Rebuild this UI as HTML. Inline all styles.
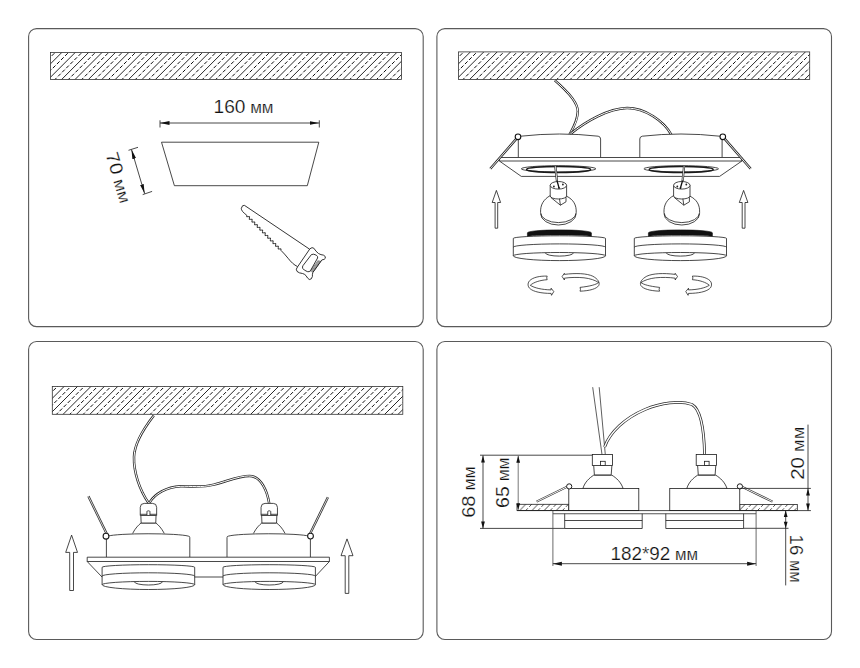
<!DOCTYPE html>
<html><head><meta charset="utf-8"><style>
html,body{margin:0;padding:0;background:#fff;width:860px;height:668px;overflow:hidden}
svg{display:block}
text{font-family:"Liberation Sans",sans-serif;fill:#111;stroke:#fff;stroke-width:0.2;paint-order:normal}
</style></head><body>
<svg width="860" height="668" viewBox="0 0 860 668">
<defs>
<pattern id="h" patternUnits="userSpaceOnUse" width="9.1" height="12" patternTransform="translate(-1.2 0) rotate(45)">
<line x1="1" y1="0" x2="1" y2="12" stroke="#000" stroke-width="0.7"/>
<line x1="5.55" y1="0" x2="5.55" y2="12" stroke="#000" stroke-width="0.7" stroke-dasharray="3.8 2.2"/>
</pattern>
<pattern id="hs" patternUnits="userSpaceOnUse" width="5.2" height="10" patternTransform="rotate(40)">
<line x1="0.5" y1="0" x2="0.5" y2="10" stroke="#222" stroke-width="0.8" stroke-dasharray="4 1"/>
</pattern>
<marker id="ar" viewBox="0 0 10 4" refX="10" refY="2" markerWidth="9.5" markerHeight="4.6" markerUnits="userSpaceOnUse" orient="auto-start-reverse"><path d="M0 0L10 2L0 4z" fill="#111"/></marker>
<marker id="ar2" viewBox="0 0 10 4" refX="10" refY="2" markerWidth="7" markerHeight="3.4" markerUnits="userSpaceOnUse" orient="auto-start-reverse"><path d="M0 0L10 2L0 4z" fill="#111"/></marker>
</defs>
<g fill="none" stroke="#5a5a5a" stroke-width="1.1">
<rect x="28.6" y="28.6" width="394.6" height="298" rx="8"/>
<rect x="436.9" y="28.6" width="394.6" height="298" rx="8"/>
<rect x="28.6" y="341.5" width="394.6" height="298" rx="8"/>
<rect x="436.9" y="341.5" width="394.6" height="298" rx="8"/>
</g>
<clipPath id="hc0"><rect x="50.5" y="52.4" width="350.90" height="27.10"/></clipPath>
<g clip-path="url(#hc0)" stroke="#000" stroke-width="0.85" fill="none">
<path d="M7.00 80.50L36.10 51.40M20.40 80.50L49.50 51.40M33.80 80.50L62.90 51.40M47.20 80.50L76.30 51.40M60.60 80.50L89.70 51.40M74.00 80.50L103.10 51.40M87.40 80.50L116.50 51.40M100.80 80.50L129.90 51.40M114.20 80.50L143.30 51.40M127.60 80.50L156.70 51.40M141.00 80.50L170.10 51.40M154.40 80.50L183.50 51.40M167.80 80.50L196.90 51.40M181.20 80.50L210.30 51.40M194.60 80.50L223.70 51.40M208.00 80.50L237.10 51.40M221.40 80.50L250.50 51.40M234.80 80.50L263.90 51.40M248.20 80.50L277.30 51.40M261.60 80.50L290.70 51.40M275.00 80.50L304.10 51.40M288.40 80.50L317.50 51.40M301.80 80.50L330.90 51.40M315.20 80.50L344.30 51.40M328.60 80.50L357.70 51.40M342.00 80.50L371.10 51.40M355.40 80.50L384.50 51.40M368.80 80.50L397.90 51.40M382.20 80.50L411.30 51.40M395.60 80.50L424.70 51.40M409.00 80.50L438.10 51.40"/>
<path d="M13.70 80.50L42.80 51.40M27.10 80.50L56.20 51.40M40.50 80.50L69.60 51.40M53.90 80.50L83.00 51.40M67.30 80.50L96.40 51.40M80.70 80.50L109.80 51.40M94.10 80.50L123.20 51.40M107.50 80.50L136.60 51.40M120.90 80.50L150.00 51.40M134.30 80.50L163.40 51.40M147.70 80.50L176.80 51.40M161.10 80.50L190.20 51.40M174.50 80.50L203.60 51.40M187.90 80.50L217.00 51.40M201.30 80.50L230.40 51.40M214.70 80.50L243.80 51.40M228.10 80.50L257.20 51.40M241.50 80.50L270.60 51.40M254.90 80.50L284.00 51.40M268.30 80.50L297.40 51.40M281.70 80.50L310.80 51.40M295.10 80.50L324.20 51.40M308.50 80.50L337.60 51.40M321.90 80.50L351.00 51.40M335.30 80.50L364.40 51.40M348.70 80.50L377.80 51.40M362.10 80.50L391.20 51.40M375.50 80.50L404.60 51.40M388.90 80.50L418.00 51.40M402.30 80.50L431.40 51.40M415.70 80.50L444.80 51.40" stroke-dasharray="3.8 2" stroke-width="0.95"/>
</g>
<rect x="50.5" y="52.4" width="350.90" height="27.10" fill="none" stroke="#333" stroke-width="0.8"/>
<clipPath id="hc1"><rect x="458.4" y="51.9" width="351.30" height="27.60"/></clipPath>
<g clip-path="url(#hc1)" stroke="#000" stroke-width="0.85" fill="none">
<path d="M415.00 80.50L444.60 50.90M428.40 80.50L458.00 50.90M441.80 80.50L471.40 50.90M455.20 80.50L484.80 50.90M468.60 80.50L498.20 50.90M482.00 80.50L511.60 50.90M495.40 80.50L525.00 50.90M508.80 80.50L538.40 50.90M522.20 80.50L551.80 50.90M535.60 80.50L565.20 50.90M549.00 80.50L578.60 50.90M562.40 80.50L592.00 50.90M575.80 80.50L605.40 50.90M589.20 80.50L618.80 50.90M602.60 80.50L632.20 50.90M616.00 80.50L645.60 50.90M629.40 80.50L659.00 50.90M642.80 80.50L672.40 50.90M656.20 80.50L685.80 50.90M669.60 80.50L699.20 50.90M683.00 80.50L712.60 50.90M696.40 80.50L726.00 50.90M709.80 80.50L739.40 50.90M723.20 80.50L752.80 50.90M736.60 80.50L766.20 50.90M750.00 80.50L779.60 50.90M763.40 80.50L793.00 50.90M776.80 80.50L806.40 50.90M790.20 80.50L819.80 50.90M803.60 80.50L833.20 50.90M817.00 80.50L846.60 50.90"/>
<path d="M421.70 80.50L451.30 50.90M435.10 80.50L464.70 50.90M448.50 80.50L478.10 50.90M461.90 80.50L491.50 50.90M475.30 80.50L504.90 50.90M488.70 80.50L518.30 50.90M502.10 80.50L531.70 50.90M515.50 80.50L545.10 50.90M528.90 80.50L558.50 50.90M542.30 80.50L571.90 50.90M555.70 80.50L585.30 50.90M569.10 80.50L598.70 50.90M582.50 80.50L612.10 50.90M595.90 80.50L625.50 50.90M609.30 80.50L638.90 50.90M622.70 80.50L652.30 50.90M636.10 80.50L665.70 50.90M649.50 80.50L679.10 50.90M662.90 80.50L692.50 50.90M676.30 80.50L705.90 50.90M689.70 80.50L719.30 50.90M703.10 80.50L732.70 50.90M716.50 80.50L746.10 50.90M729.90 80.50L759.50 50.90M743.30 80.50L772.90 50.90M756.70 80.50L786.30 50.90M770.10 80.50L799.70 50.90M783.50 80.50L813.10 50.90M796.90 80.50L826.50 50.90M810.30 80.50L839.90 50.90M823.70 80.50L853.30 50.90" stroke-dasharray="3.8 2" stroke-width="0.95"/>
</g>
<rect x="458.4" y="51.9" width="351.30" height="27.60" fill="none" stroke="#333" stroke-width="0.8"/>
<clipPath id="hc2"><rect x="52.3" y="386.4" width="350.50" height="27.90"/></clipPath>
<g clip-path="url(#hc2)" stroke="#000" stroke-width="0.85" fill="none">
<path d="M8.50 415.30L38.40 385.40M21.90 415.30L51.80 385.40M35.30 415.30L65.20 385.40M48.70 415.30L78.60 385.40M62.10 415.30L92.00 385.40M75.50 415.30L105.40 385.40M88.90 415.30L118.80 385.40M102.30 415.30L132.20 385.40M115.70 415.30L145.60 385.40M129.10 415.30L159.00 385.40M142.50 415.30L172.40 385.40M155.90 415.30L185.80 385.40M169.30 415.30L199.20 385.40M182.70 415.30L212.60 385.40M196.10 415.30L226.00 385.40M209.50 415.30L239.40 385.40M222.90 415.30L252.80 385.40M236.30 415.30L266.20 385.40M249.70 415.30L279.60 385.40M263.10 415.30L293.00 385.40M276.50 415.30L306.40 385.40M289.90 415.30L319.80 385.40M303.30 415.30L333.20 385.40M316.70 415.30L346.60 385.40M330.10 415.30L360.00 385.40M343.50 415.30L373.40 385.40M356.90 415.30L386.80 385.40M370.30 415.30L400.20 385.40M383.70 415.30L413.60 385.40M397.10 415.30L427.00 385.40M410.50 415.30L440.40 385.40"/>
<path d="M15.20 415.30L45.10 385.40M28.60 415.30L58.50 385.40M42.00 415.30L71.90 385.40M55.40 415.30L85.30 385.40M68.80 415.30L98.70 385.40M82.20 415.30L112.10 385.40M95.60 415.30L125.50 385.40M109.00 415.30L138.90 385.40M122.40 415.30L152.30 385.40M135.80 415.30L165.70 385.40M149.20 415.30L179.10 385.40M162.60 415.30L192.50 385.40M176.00 415.30L205.90 385.40M189.40 415.30L219.30 385.40M202.80 415.30L232.70 385.40M216.20 415.30L246.10 385.40M229.60 415.30L259.50 385.40M243.00 415.30L272.90 385.40M256.40 415.30L286.30 385.40M269.80 415.30L299.70 385.40M283.20 415.30L313.10 385.40M296.60 415.30L326.50 385.40M310.00 415.30L339.90 385.40M323.40 415.30L353.30 385.40M336.80 415.30L366.70 385.40M350.20 415.30L380.10 385.40M363.60 415.30L393.50 385.40M377.00 415.30L406.90 385.40M390.40 415.30L420.30 385.40M403.80 415.30L433.70 385.40M417.20 415.30L447.10 385.40" stroke-dasharray="3.8 2" stroke-width="0.95"/>
</g>
<rect x="52.3" y="386.4" width="350.50" height="27.90" fill="none" stroke="#333" stroke-width="0.8"/><g fill="none" stroke="#1a1a1a" stroke-width="0.8">
<line x1="160" y1="123" x2="319.3" y2="123" marker-start="url(#ar)" marker-end="url(#ar)"/>
<line x1="160" y1="120.3" x2="160" y2="127.5"/>
<line x1="319.3" y1="120.3" x2="319.3" y2="127.5"/>
<path d="M161.5 142.2H318.8L307.3 185.7H174.4Z"/>
<line x1="131.5" y1="149.6" x2="144.6" y2="193.6" marker-start="url(#ar)" marker-end="url(#ar)"/>
<line x1="128.5" y1="150.3" x2="138" y2="147.3"/>
<line x1="142.7" y1="194.6" x2="152.1" y2="191.4"/>
</g>
<text x="243.5" y="112.7" font-size="18" text-anchor="middle" textLength="60" lengthAdjust="spacingAndGlyphs">160<tspan font-size="16"> мм</tspan></text>
<text transform="translate(112.9,179.3) rotate(73.5)" font-size="18" text-anchor="middle" textLength="52" lengthAdjust="spacingAndGlyphs">70<tspan font-size="16"> мм</tspan></text>
<g fill="none" stroke="#111" stroke-width="0.85" stroke-linejoin="round">
<path d="M246.8 215.3 Q241 211 241.3 208.3 Q242.3 204.6 244.5 205.4 L309.6 249.2"/>
<path d="M246.8 215.3Q245.88 217.51 248.11 216.65Q250.34 215.78 249.42 217.99Q248.50 220.20 250.73 219.34Q252.97 218.48 252.05 220.68Q251.13 222.89 253.36 222.03Q255.59 221.17 254.67 223.38Q253.75 225.59 255.98 224.72Q258.21 223.86 257.29 226.07Q256.37 228.28 258.60 227.42Q260.84 226.55 259.92 228.76Q259.00 230.97 261.23 230.11Q263.46 229.25 262.54 231.45Q261.62 233.66 263.85 232.80Q266.08 231.94 265.16 234.15Q264.24 236.35 266.47 235.49Q268.70 234.63 267.78 236.84Q266.86 239.05 269.10 238.18Q271.33 237.32 270.41 239.53Q269.49 241.74 271.72 240.88Q273.95 240.01 273.03 242.22Q272.11 244.43 274.34 243.57Q276.57 242.71 275.65 244.92Q274.73 247.12 276.97 246.26Q279.20 245.40 278.28 247.61Q277.36 249.82 279.59 248.95Q281.82 248.09 280.90 250.30 C283.5 252.5 285.5 255.5 288.1 258.3 C291 262 294 265 297.6 266.6"/>
<path d="M309.9 248.8 Q312.2 246.8 313.8 248.2 Q316 251.6 318.5 253.5 Q321 255 323.4 255.1 Q326 256.2 325.3 258.3 Q324.5 259.8 321.9 259.9 L312.9 272.4 Q312.2 274 312.4 276.5 Q311.6 279.8 309.3 279.5 Q307.5 278.6 306 275.6 Q304.3 273.8 302.5 273.5 Q299 273.2 297 271.4 Q295.3 269.3 297.6 266.8 Z"/>
<path d="M311.4 254.6 Q313.5 253.5 316.3 255.2 Q318.2 256.6 317.6 258 L310.5 270.6 Q309.3 272.3 307.3 271.6 Q303.5 270 302.8 268.5 Q302 267 303 265.6 Z"/>
<path d="M318.3 260.2 L310.2 271.5 M319.2 260.5 L311.1 271.8 M320.1 260.8 L312 272.1 M321 261 L312.9 272.4" stroke-width="0.5"/>
</g>
<g id="p2"><path d="M554.8 80.4 C566 90 578 102 577.8 111.5 C577.5 121 573 128 569.4 134.8" fill="none" stroke="#2a2a2a" stroke-width="2.5"/><path d="M554.8 80.4 C566 90 578 102 577.8 111.5 C577.5 121 573 128 569.4 134.8" fill="none" stroke="#fff" stroke-width="1.0"/><path d="M571 133.5 C585 122 608 108.5 627 108.1 C645 108 664 121 671.5 135" fill="none" stroke="#2a2a2a" stroke-width="2.5"/><path d="M571 133.5 C585 122 608 108.5 627 108.1 C645 108 664 121 671.5 135" fill="none" stroke="#fff" stroke-width="1.0"/><g fill="#fff" stroke="#1a1a1a" stroke-width="0.8"><path d="M518.3 157.5 V139 Q518.3 136.6 520.8 136.2 Q559.5 131.8 598.2 136.2 Q600.6 136.6 600.6 139 V157.5"/><path d="M639.8 157.5 V139 Q639.8 136.6 642.3 136.2 Q681.0 131.8 719.7 136.2 Q722.1 136.6 722.1 139 V157.5"/><path d="M499.4 157.5 H741.9 V161 L719.6 176.4 H521.3 L499.4 161 Z"/><path d="M499.4 161 H741.9" fill="none"/></g><path d="M490.3 168.8 L516.5 138.6" fill="none" stroke="#2a2a2a" stroke-width="2.4"/><path d="M490.3 168.8 L516.5 138.6" fill="none" stroke="#fff" stroke-width="0.9"/><path d="M750.7 168.8 L724.5 138.6" fill="none" stroke="#2a2a2a" stroke-width="2.4"/><path d="M750.7 168.8 L724.5 138.6" fill="none" stroke="#fff" stroke-width="0.9"/><circle cx="518" cy="136.8" r="2.8" fill="#fff" stroke="#111" stroke-width="1.1"/><circle cx="722.8" cy="136.8" r="2.8" fill="#fff" stroke="#111" stroke-width="1.1"/><ellipse cx="558.6" cy="168.8" rx="37.3" ry="3.1" fill="#fff" stroke="#1a1a1a" stroke-width="0.8"/><ellipse cx="558.6" cy="169.4" rx="32" ry="3" fill="none" stroke="#1a1a1a" stroke-width="1.5"/><ellipse cx="681.2" cy="168.8" rx="37.3" ry="3.1" fill="#fff" stroke="#1a1a1a" stroke-width="0.8"/><ellipse cx="681.2" cy="169.4" rx="32" ry="3" fill="none" stroke="#1a1a1a" stroke-width="1.5"/><g fill="#fff" stroke="#1a1a1a" stroke-width="0.8"><path d="M550.1999999999999 195.6 C543.4 199.5 540.1999999999999 205 540.6 212.6 A17.8 10 0 0 0 576.1999999999999 212.6 C576.6 205 573.4 199.5 566.6 196.2 Z"/><path d="M540.6 213.6 A17.8 11.4 0 0 0 576.1999999999999 213.6" fill="none"/><path d="M550.1999999999999 185.3 V196 A8.2 3 0 0 0 566.6 196 V185.3"/><ellipse cx="558.4" cy="185.3" rx="8.2" ry="3.8"/><path d="M550.9 197.5 L560.4 205.2 L566.0 201.8 V197.2 M559.5 198.8 L560.4 205.2" fill="none"/></g><circle cx="553.9" cy="186.5" r="0.9" fill="#222"/><circle cx="562.9" cy="184.5" r="0.9" fill="#222"/><g fill="#fff" stroke="#1a1a1a" stroke-width="0.8"><path d="M673.5999999999999 195.6 C666.8 199.5 663.5999999999999 205 664.0 212.6 A17.8 10 0 0 0 699.5999999999999 212.6 C700.0 205 696.8 199.5 690.0 196.2 Z"/><path d="M664.0 213.6 A17.8 11.4 0 0 0 699.5999999999999 213.6" fill="none"/><path d="M673.5999999999999 185.3 V196 A8.2 3 0 0 0 690.0 196 V185.3"/><ellipse cx="681.8" cy="185.3" rx="8.2" ry="3.8"/><path d="M674.3 197.5 L683.8 205.2 L689.4 201.8 V197.2 M682.9 198.8 L683.8 205.2" fill="none"/></g><circle cx="677.3" cy="186.5" r="0.9" fill="#222"/><circle cx="686.3" cy="184.5" r="0.9" fill="#222"/><path d="M555.3 166.2 L557 181" fill="none" stroke="#2a2a2a" stroke-width="2.2"/><path d="M555.3 166.2 L557 181" fill="none" stroke="#fff" stroke-width="0.8"/><path d="M684.1 166.2 L682.6 181" fill="none" stroke="#2a2a2a" stroke-width="2.2"/><path d="M684.1 166.2 L682.6 181" fill="none" stroke="#fff" stroke-width="0.8"/><path d="M557 180.5 L559 187.8 M682.6 180.5 L680.5 187.8" stroke="#111" stroke-width="1.3" fill="none"/><circle cx="559" cy="188" r="0.9" fill="#111"/><circle cx="680.5" cy="188" r="0.9" fill="#111"/><path d="M527.4 232.8 A32 2.9 0 0 1 591.4 232.8 V236.5 A32 1.6 0 0 0 527.4 236.5 Z" fill="#111" stroke="#111" stroke-width="0.6"/><path d="M513.3 238.4 A46.1 2.6 0 0 1 605.5 238.4 V255.8 A46.1 4.8 0 0 1 513.3 255.8 Z" fill="#fff" stroke="#1a1a1a" stroke-width="0.8"/><path d="M513.3 247.20000000000002 A46.1 3.3 0 0 1 605.5 247.20000000000002 M513.3 255.8 A46.1 3.3 0 0 1 605.5 255.8 M545.4 252.9 A14 3.2 0 0 0 573.4 252.9" fill="none" stroke="#1a1a1a" stroke-width="0.8"/><path d="M648.4 232.8 A32 2.9 0 0 1 712.4 232.8 V236.5 A32 1.6 0 0 0 648.4 236.5 Z" fill="#111" stroke="#111" stroke-width="0.6"/><path d="M634.3 238.4 A46.1 2.6 0 0 1 726.5 238.4 V255.8 A46.1 4.8 0 0 1 634.3 255.8 Z" fill="#fff" stroke="#1a1a1a" stroke-width="0.8"/><path d="M634.3 247.20000000000002 A46.1 3.3 0 0 1 726.5 247.20000000000002 M634.3 255.8 A46.1 3.3 0 0 1 726.5 255.8 M666.4 252.9 A14 3.2 0 0 0 694.4 252.9" fill="none" stroke="#1a1a1a" stroke-width="0.8"/><path d="M496.4 190.4 L500.59999999999997 202.5 H497.7 V228.2 H495.09999999999997 V202.5 H492.2 Z" fill="#fff" stroke="#1a1a1a" stroke-width="0.8" stroke-linejoin="miter"/><path d="M743.6 190.4 L747.9 202.5 H745.0 V228.2 H742.2 V202.5 H739.3000000000001 Z" fill="#fff" stroke="#1a1a1a" stroke-width="0.8" stroke-linejoin="miter"/><g fill="#fff" stroke="#1a1a1a" stroke-width="0.75" stroke-linejoin="round"><path d="M547.2 276.1 C540 275.9 533 277.2 529.5 280.8 C527.2 283.5 527.8 287 530.2 288.8 C533.5 291.6 541 293.4 551.1 293.4 L551.5 295.3 L553.8 291.6 L551.1 288.2 L551.1 289.9 C542 289.7 534.5 288 530.3 285.3 C533.5 282.3 540 280.2 547.2 279.7 Q546.2 277.9 547.2 276.1 Z"/><path d="M564.4 273.3 L562.1 276.5 L564.4 280 L564.4 278.2 C570 277.3 578 277.2 584 277.8 C590 278.5 595.5 280.3 598.6 282.6 C596 284.6 590.5 286.2 580 287.4 Q581 289.3 580 291.2 C590 290.8 596.5 288.8 598.7 285.6 C600.2 282.6 598 279 592.8 276.2 C587 273.4 576 272.9 564.4 274.4 Z"/><g transform="translate(1239.6 0) scale(-1 1)"><path d="M547.2 276.1 C540 275.9 533 277.2 529.5 280.8 C527.2 283.5 527.8 287 530.2 288.8 C533.5 291.6 541 293.4 551.1 293.4 L551.5 295.3 L553.8 291.6 L551.1 288.2 L551.1 289.9 C542 289.7 534.5 288 530.3 285.3 C533.5 282.3 540 280.2 547.2 279.7 Q546.2 277.9 547.2 276.1 Z"/><path d="M564.4 273.3 L562.1 276.5 L564.4 280 L564.4 278.2 C570 277.3 578 277.2 584 277.8 C590 278.5 595.5 280.3 598.6 282.6 C596 284.6 590.5 286.2 580 287.4 Q581 289.3 580 291.2 C590 290.8 596.5 288.8 598.7 285.6 C600.2 282.6 598 279 592.8 276.2 C587 273.4 576 272.9 564.4 274.4 Z"/></g></g></g><g id="p3"><path d="M153.8 415.6 C145 427 134.5 442 134 457 C133.6 472 139.5 490 148.8 503.2" fill="none" stroke="#2a2a2a" stroke-width="2.5"/><path d="M153.8 415.6 C145 427 134.5 442 134 457 C133.6 472 139.5 490 148.8 503.2" fill="none" stroke="#fff" stroke-width="1.0"/><path d="M149.6 502.4 C155 494 166 487 180.8 486.3 C191 486 201 488 214 484.6 C228 481 243 474.5 252 476.2 C261 478 267 490 269.2 503.4" fill="none" stroke="#2a2a2a" stroke-width="2.5"/><path d="M149.6 502.4 C155 494 166 487 180.8 486.3 C191 486 201 488 214 484.6 C228 481 243 474.5 252 476.2 C261 478 267 490 269.2 503.4" fill="none" stroke="#fff" stroke-width="1.0"/><path d="M88.4 496.3 L106.6 533.6" fill="none" stroke="#2a2a2a" stroke-width="2.3"/><path d="M88.4 496.3 L106.6 533.6" fill="none" stroke="#fff" stroke-width="0.8"/><path d="M327.9 497.3 L310.2 533.6" fill="none" stroke="#2a2a2a" stroke-width="2.3"/><path d="M327.9 497.3 L310.2 533.6" fill="none" stroke="#fff" stroke-width="0.8"/><g fill="#fff" stroke="#1a1a1a" stroke-width="0.8"><path d="M106.39999999999999 557.3 V537.6 Q106.39999999999999 536.2 107.89999999999999 536.1 A41.7 3.2 0 0 1 188.3 536.1 Q189.8 536.2 189.8 537.6 V557.3"/><path fill="none" d="M132.64999999999998 533.4 C135.45 528 138.45 525 141.04999999999998 523 H155.85 C158.45 525 161.45 528 164.25 533.4"/><path d="M140.85 515.5 L141.14999999999998 523 H155.75 L156.04999999999998 515.5"/><path d="M140.25 515.5 V507.4 Q140.25 503.4 144.25 503.4 H152.64999999999998 Q156.64999999999998 503.4 156.64999999999998 507.4 V515.5 Z"/><path d="M140.25 514.3 H156.64999999999998" fill="none"/><path d="M146.95 515 V511.6 Q146.95 510.8 148.45 510.8 Q149.95 510.8 149.95 511.6 V515"/></g><g fill="#fff" stroke="#1a1a1a" stroke-width="0.8"><path d="M227.0 557.3 V537.6 Q227.0 536.2 228.5 536.1 A41.7 3.2 0 0 1 308.9 536.1 Q310.4 536.2 310.4 537.6 V557.3"/><path fill="none" d="M253.45 533.4 C256.25 528 259.25 525 261.85 523 H276.65 C279.25 525 282.25 528 285.05 533.4"/><path d="M261.65 515.5 L261.95 523 H276.55 L276.85 515.5"/><path d="M261.05 515.5 V507.4 Q261.05 503.4 265.05 503.4 H273.45 Q277.45 503.4 277.45 507.4 V515.5 Z"/><path d="M261.05 514.3 H277.45" fill="none"/><path d="M267.75 515 V511.6 Q267.75 510.8 269.25 510.8 Q270.75 510.8 270.75 511.6 V515"/></g><g fill="#fff" stroke="#1a1a1a" stroke-width="0.8"><circle cx="106" cy="536.2" r="2.9" stroke-width="1.1"/><circle cx="310.5" cy="536.1" r="2.9" stroke-width="1.1"/><path d="M87.2 557.2 H329.4 V561.5 L315.3 576.5 V577 H102 L87.2 561.5 Z"/><path d="M87.2 561.5 H329.4" fill="none"/></g><path d="M102.10000000000001 567.3 A46.3 2.6 0 0 1 194.7 567.3 V584.6999999999999 A46.3 4.8 0 0 1 102.10000000000001 584.6999999999999 Z" fill="#fff" stroke="#1a1a1a" stroke-width="0.8"/><path d="M102.10000000000001 576.0999999999999 A46.3 3.3 0 0 1 194.7 576.0999999999999 M102.10000000000001 584.6999999999999 A46.3 3.3 0 0 1 194.7 584.6999999999999 M134.4 581.8 A14 3.2 0 0 0 162.4 581.8" fill="none" stroke="#1a1a1a" stroke-width="0.8"/><path d="M223.0 567.3 A46.2 2.6 0 0 1 315.4 567.3 V584.6999999999999 A46.2 4.8 0 0 1 223.0 584.6999999999999 Z" fill="#fff" stroke="#1a1a1a" stroke-width="0.8"/><path d="M223.0 576.0999999999999 A46.2 3.3 0 0 1 315.4 576.0999999999999 M223.0 584.6999999999999 A46.2 3.3 0 0 1 315.4 584.6999999999999 M255.2 581.8 A14 3.2 0 0 0 283.2 581.8" fill="none" stroke="#1a1a1a" stroke-width="0.8"/><path d="M71.6 535.1 L77.5 552.4 H73.5 V590.5 H69.69999999999999 V552.4 H65.69999999999999 Z" fill="#fff" stroke="#1a1a1a" stroke-width="0.8" stroke-linejoin="miter"/><path d="M347.0 538.9 L353.0 555.6999999999999 H348.8 V593.4 H345.2 V555.6999999999999 H341.0 Z" fill="#fff" stroke="#1a1a1a" stroke-width="0.8" stroke-linejoin="miter"/></g><g id="p4"><pattern id="hs2" patternUnits="userSpaceOnUse" width="12.2" height="6.2" patternTransform="translate(0 504.4) skewX(-44)"><line x1="1" y1="0" x2="1" y2="6.2" stroke="#222" stroke-width="0.8"/><line x1="7.1" y1="0" x2="7.1" y2="6.2" stroke="#222" stroke-width="0.8" stroke-dasharray="2.6 1.2"/></pattern><g stroke="#222" stroke-width="0.8"><rect x="517" y="504.3" width="51.8" height="6.3" fill="url(#hs2)"/><rect x="739.8" y="504.4" width="57.5" height="6.2" fill="url(#hs2)"/></g><path d="M592.7 387.2 L602 454.6 M599.2 387.2 L605.3 454.6" fill="none" stroke="#2a2a2a" stroke-width="0.75"/><path d="M604.6 447 C610 432 625 418 645 409.5 C660 403 680 400 692 404.5 C700 409 704 425 704.6 454.6" fill="none" stroke="#2a2a2a" stroke-width="2.9"/><path d="M604.6 447 C610 432 625 418 645 409.5 C660 403 680 400 692 404.5 C700 409 704 425 704.6 454.6" fill="none" stroke="#fff" stroke-width="1.4"/><path d="M536.6 501.6 L566.8 486.9" fill="none" stroke="#2a2a2a" stroke-width="2.1"/><path d="M536.6 501.6 L566.8 486.9" fill="none" stroke="#fff" stroke-width="0.95"/><path d="M772.5 501.6 L742.2 486.9" fill="none" stroke="#2a2a2a" stroke-width="2.1"/><path d="M772.5 501.6 L742.2 486.9" fill="none" stroke="#fff" stroke-width="0.95"/><g fill="#fff" stroke="#1a1a1a" stroke-width="0.8"><rect x="568.8" y="488.4" width="70" height="22.2"/><path d="M593.6999999999999 475.2 C589.4 478 584.9 482 582.9 488.4 H623.1 C620.9 482 616.4 478 611.9 475.2 Z"/><path d="M593.6999999999999 465.5 L594.4 474.9 H611.1999999999999 L611.9 465.5"/><rect x="592.3" y="454.4" width="20.2" height="11.1"/><rect x="600.5" y="461.3" width="4.7" height="4.2"/></g><g fill="#fff" stroke="#1a1a1a" stroke-width="0.8"><rect x="669.75" y="488.4" width="70" height="22.2"/><path d="M697.5999999999999 475.2 C693.3 478 688.8 482 686.8 488.4 H727.0 C724.8 482 720.3 478 715.8 475.2 Z"/><path d="M697.5999999999999 465.5 L698.3 474.9 H715.0999999999999 L715.8 465.5"/><rect x="696.1999999999999" y="454.4" width="20.2" height="11.1"/><rect x="704.4" y="461.3" width="4.7" height="4.2"/></g><g fill="#fff" stroke="#1a1a1a" stroke-width="0.8"><circle cx="569.2" cy="486.4" r="2.6" stroke-width="1"/><circle cx="739.9" cy="486.4" r="2.6" stroke-width="1"/></g><g fill="none" stroke="#1a1a1a" stroke-width="0.8"><path d="M517 510.6 H797.3"/><path d="M552.9 513.7 H756.1" stroke="#555" stroke-width="1.1"/><path d="M564.7 513.7 V528.5 H642.2 V513.7 M564.7 520.5 H642.2"/><path d="M665.8 513.7 V528.5 H743.6 V513.7 M665.8 520.5 H743.6"/><path d="M480 455.2 H592.3 M480 528.4 H564.7 M739.4 488.4 H810.9 M797.3 510.6 H810.9 M743.6 528.3 H788.5"/><path d="M552.9 510.6 V566 M756.1 510.6 V566" stroke="#444"/><path d="M483 455.4 V528.4 M808 424.6 V510.6 M785.7 510.6 V585.4"/><path d="M518.2 455.7 V509.8" stroke="#555"/></g><g fill="#111" stroke="none"><path d="M483 455.4 L484.9 462.4 H481.1 Z"/><path d="M483 528.4 L484.9 521.4 H481.1 Z"/><path d="M518.2 455.7 L520.1 462.7 H516.3000000000001 Z"/><path d="M518.2 509.8 L520.1 503.3 H516.3000000000001 Z"/><path d="M808 488.4 L809.9 495.4 H806.1 Z"/><path d="M808 510.6 L809.9 503.6 H806.1 Z"/><path d="M785.7 510.6 L787.6 517.1 H783.8000000000001 Z"/><path d="M785.7 528.3 L787.6 521.8 H783.8000000000001 Z"/><path d="M552.9 563.7 L561.9 561.7 V565.7 Z"/><path d="M756.1 563.7 L747.1 561.7 V565.7 Z"/></g><path d="M552.9 563.7 H756.1" stroke="#1a1a1a" stroke-width="0.8"/><text x="654.2" y="559.6" font-size="18" text-anchor="middle" textLength="87.5" lengthAdjust="spacingAndGlyphs">182*92<tspan font-size="16"> мм</tspan></text><text transform="translate(474.6 492) rotate(-90)" font-size="18" text-anchor="middle" textLength="51.5" lengthAdjust="spacingAndGlyphs">68<tspan font-size="16"> мм</tspan></text><text transform="translate(509 482.7) rotate(-90)" font-size="18" text-anchor="middle" textLength="50.5" lengthAdjust="spacingAndGlyphs">65<tspan font-size="16"> мм</tspan></text><text transform="translate(804.3 453.3) rotate(-90)" font-size="18" text-anchor="middle" textLength="53" lengthAdjust="spacingAndGlyphs">20<tspan font-size="16"> мм</tspan></text><text transform="translate(790.2 558.6) rotate(90)" font-size="18" text-anchor="middle" textLength="48" lengthAdjust="spacingAndGlyphs">16<tspan font-size="16"> мм</tspan></text></g></svg>
</body></html>
